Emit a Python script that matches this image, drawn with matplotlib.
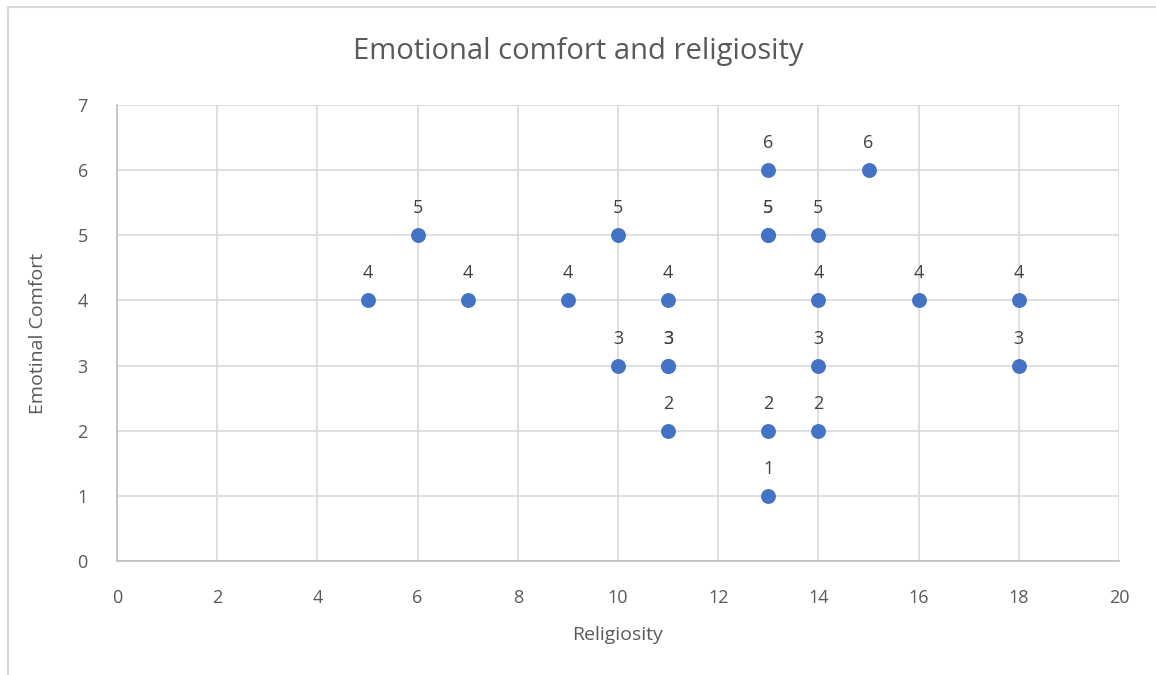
import matplotlib.pyplot as plt
from matplotlib.lines import Line2D

religiosity = [5, 6, 7, 9, 10, 10, 11, 11, 11, 11, 13, 13, 13, 13, 13, 14, 14, 14, 14, 15, 16, 18, 18]
comfort = [4, 5, 4, 4, 5, 3, 4, 3, 3, 2, 6, 5, 5, 2, 1, 5, 4, 3, 2, 6, 4, 4, 3]

plt.rcParams['font.family'] = ['Open Sans', 'DejaVu Sans']
txt = '#595959'
grid = '#D9D9D9'

fig = plt.figure(figsize=(11.56, 6.75), dpi=100)
ax = fig.add_axes([117 / 1156, 1 - 561 / 675, (1119 - 117) / 1156, (561 - 105) / 675])

ax.scatter(religiosity, comfort, s=115, color='#4472C4', zorder=3, linewidths=0)
for x, y in zip(religiosity, comfort):
    ax.annotate(str(y), (x, y), xytext=(0, 13), textcoords='offset points',
                ha='center', va='bottom', fontsize=13, color='#404040')

ax.set_xlim(0, 20)
ax.set_ylim(0, 7)
ax.set_xticks(range(0, 21, 2))
ax.set_yticks(range(0, 8))
ax.grid(True, color=grid, linewidth=1.2, zorder=0)
ax.set_axisbelow(True)
for side in ['top', 'right']:
    ax.spines[side].set_visible(False)
for side in ['bottom', 'left']:
    ax.spines[side].set_color('#BFBFBF')
    ax.spines[side].set_linewidth(1.2)
ax.tick_params(length=0, labelsize=13, colors=txt)
ax.tick_params(axis='x', pad=20)
ax.tick_params(axis='y', pad=21)

ax.set_xlabel('Religiosity', fontsize=14, color=txt, labelpad=14)
ax.set_ylabel('Emotinal Comfort', fontsize=14, color=txt, labelpad=22)
fig.text(0.5, 1 - 52 / 675, 'Emotional comfort and religiosity', ha='center', va='center',
         fontsize=21, color=txt)

# chart border (left and top edges visible)
fig.add_artist(Line2D([8 / 1156, 8 / 1156], [0, 1 - 7 / 675], color=grid, linewidth=1.5))
fig.add_artist(Line2D([8 / 1156, 1], [1 - 7 / 675, 1 - 7 / 675], color=grid, linewidth=1.5))

fig.savefig('out.png', dpi=100)
